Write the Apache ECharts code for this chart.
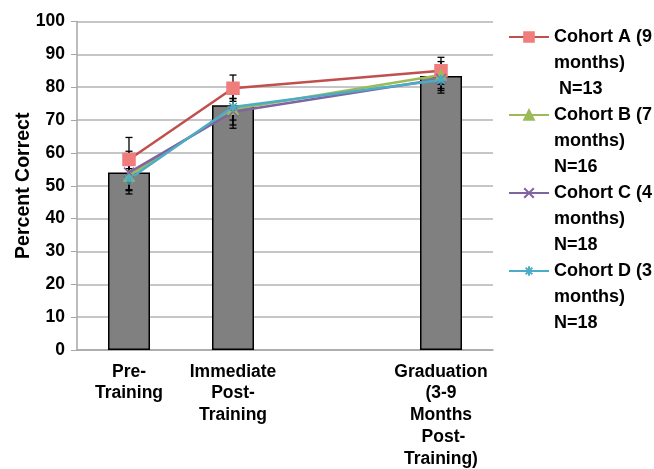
<!DOCTYPE html>
<html>
<head>
<meta charset="utf-8">
<script src="https://cdn.jsdelivr.net/npm/echarts@6/dist/echarts.min.js"></script>
<style>
  html, body { margin: 0; padding: 0; background: #fff; }
  #chart { width: 654px; height: 469px; }
</style>
</head>
<body>
<div id="chart"></div>
<script>
  // x categories (third slot is an empty gap in the original)
  const categories = ['Pre-\nTraining', 'Immediate\nPost-\nTraining', '', 'Graduation\n(3-9\nMonths\n Post-\nTraining)']
  const yTicks = [0, 10, 20, 30, 40, 50, 60, 70, 80, 90, 100]

  // overall mean (bars)
  const overall = [54, 74.5, null, 83.4]

  // cohort means
  const cohortA = [58, 79.7, null, 85]
  const cohortB = [53, 73.3, null, 83.7]
  const cohortC = [54, 72.5, null, 82.5]
  const cohortD = [52, 74, null, 82.2]

  // cohort error (+/-)
  const errA = [6.7, 4, null, 4.1]
  const errB = [4.5, 3.3, null, 4.1]
  const errC = [6.5, 4, null, 3.5]
  const errD = [3.2, 6.5, null, 4]

  const cohortNames = [
    'Cohort A (9\nmonths)\n N=13',
    'Cohort B (7\nmonths)\nN=16',
    'Cohort C (4\nmonths)\nN=18',
    'Cohort D (3\nmonths)\nN=18'
  ]

  const font = 'Liberation Sans, Arial, Helvetica, sans-serif'

  function errData(means, errs) {
    const out = []
    means.forEach(function (m, i) {
      if (m != null && errs[i] != null) out.push([i, m - errs[i], m + errs[i]])
    })
    return out
  }

  function errSeries(means, errs) {
    return {
      type: 'custom',
      silent: true,
      z: 1,
      data: errData(means, errs),
      renderItem: function (params, api) {
        const lo = api.coord([api.value(0), api.value(1)])
        const hi = api.coord([api.value(0), api.value(2)])
        const w = 3.5
        const st = { stroke: '#000', lineWidth: 1.3 }
        return {
          type: 'group',
          children: [
            { type: 'line', shape: { x1: hi[0], y1: hi[1], x2: lo[0], y2: lo[1] }, style: st },
            { type: 'line', shape: { x1: hi[0] - w, y1: hi[1], x2: hi[0] + w, y2: hi[1] }, style: st },
            { type: 'line', shape: { x1: lo[0] - w, y1: lo[1], x2: lo[0] + w, y2: lo[1] }, style: st }
          ]
        }
      }
    }
  }

  function lineSeries(name, data, color, symbol, fill, size) {
    return {
      name: name,
      type: 'line',
      data: data,
      connectNulls: true,
      z: 3,
      symbol: symbol,
      symbolSize: size,
      lineStyle: { color: color, width: 2.5 },
      itemStyle: { color: fill, borderColor: fill, borderWidth: 1.5 },
      emphasis: { disabled: true }
    }
  }

  const xPath = 'path://M0,0L10,10M10,0L0,10'
  const starPath = 'path://M5,0L5,10M0,5L10,5M1.5,1.5L8.5,8.5M8.5,1.5L1.5,8.5'

  const option = {
    animation: false,
    grid: { left: 77, right: 161, top: 21.5, bottom: 119, containLabel: false, outerBoundsMode: 'none' },
    legend: {
      orient: 'vertical',
      left: 508,
      top: -28,
      padding: 0,
      itemWidth: 40,
      itemHeight: 12,
      itemGap: -52,
      data: cohortNames,
      // two blank lines in front keep the icon level with the first text line
      formatter: function (name) { return '\n\n' + name },
      textStyle: {
        fontFamily: font,
        fontWeight: 'bold',
        fontSize: 18,
        color: '#000',
        lineHeight: 26
      }
    },
    xAxis: {
      type: 'category',
      data: categories,
      axisLine: { lineStyle: { color: '#a6a6a6', width: 1.5 } },
      axisTick: { show: false },
      axisLabel: {
        interval: 0,
        margin: 11,
        fontFamily: font,
        fontWeight: 'bold',
        fontSize: 17.5,
        color: '#000',
        lineHeight: 21.75
      }
    },
    yAxis: {
      type: 'value',
      min: yTicks[0],
      max: yTicks[yTicks.length - 1],
      interval: 10,
      name: 'Percent Correct',
      nameLocation: 'middle',
      nameGap: 43,
      nameMoveOverlap: false,
      nameTextStyle: {
        fontFamily: font,
        fontWeight: 'bold',
        fontSize: 19.5,
        color: '#000'
      },
      axisLine: { show: true, lineStyle: { color: '#a6a6a6', width: 1.5 } },
      axisTick: { show: true, length: 6, lineStyle: { color: '#a6a6a6' } },
      axisLabel: {
        margin: 12,
        fontFamily: font,
        fontWeight: 'bold',
        fontSize: 17.5,
        color: '#000'
      },
      splitLine: { lineStyle: { color: '#b3b3b3', width: 1.5 } }
    },
    series: [
      {
        name: 'Overall',
        type: 'bar',
        data: overall,
        barWidth: 42,
        z: 0,
        itemStyle: { color: '#808080', borderColor: '#000', borderWidth: 1.5 },
        emphasis: { disabled: true }
      },
      errSeries(cohortA, errA),
      errSeries(cohortB, errB),
      errSeries(cohortC, errC),
      errSeries(cohortD, errD),
      lineSeries(cohortNames[0], cohortA, '#c0504d', 'rect', '#f07c7c', 12),
      lineSeries(cohortNames[1], cohortB, '#9bbb59', 'triangle', '#9bbb59', 10),
      lineSeries(cohortNames[2], cohortC, '#8064a2', xPath, '#8064a2', 10),
      lineSeries(cohortNames[3], cohortD, '#4bacc6', starPath, '#4bacc6', 11)
    ]
  }

  const chart = echarts.init(document.getElementById('chart'))
  chart.setOption(option)
</script>
</body>
</html>
